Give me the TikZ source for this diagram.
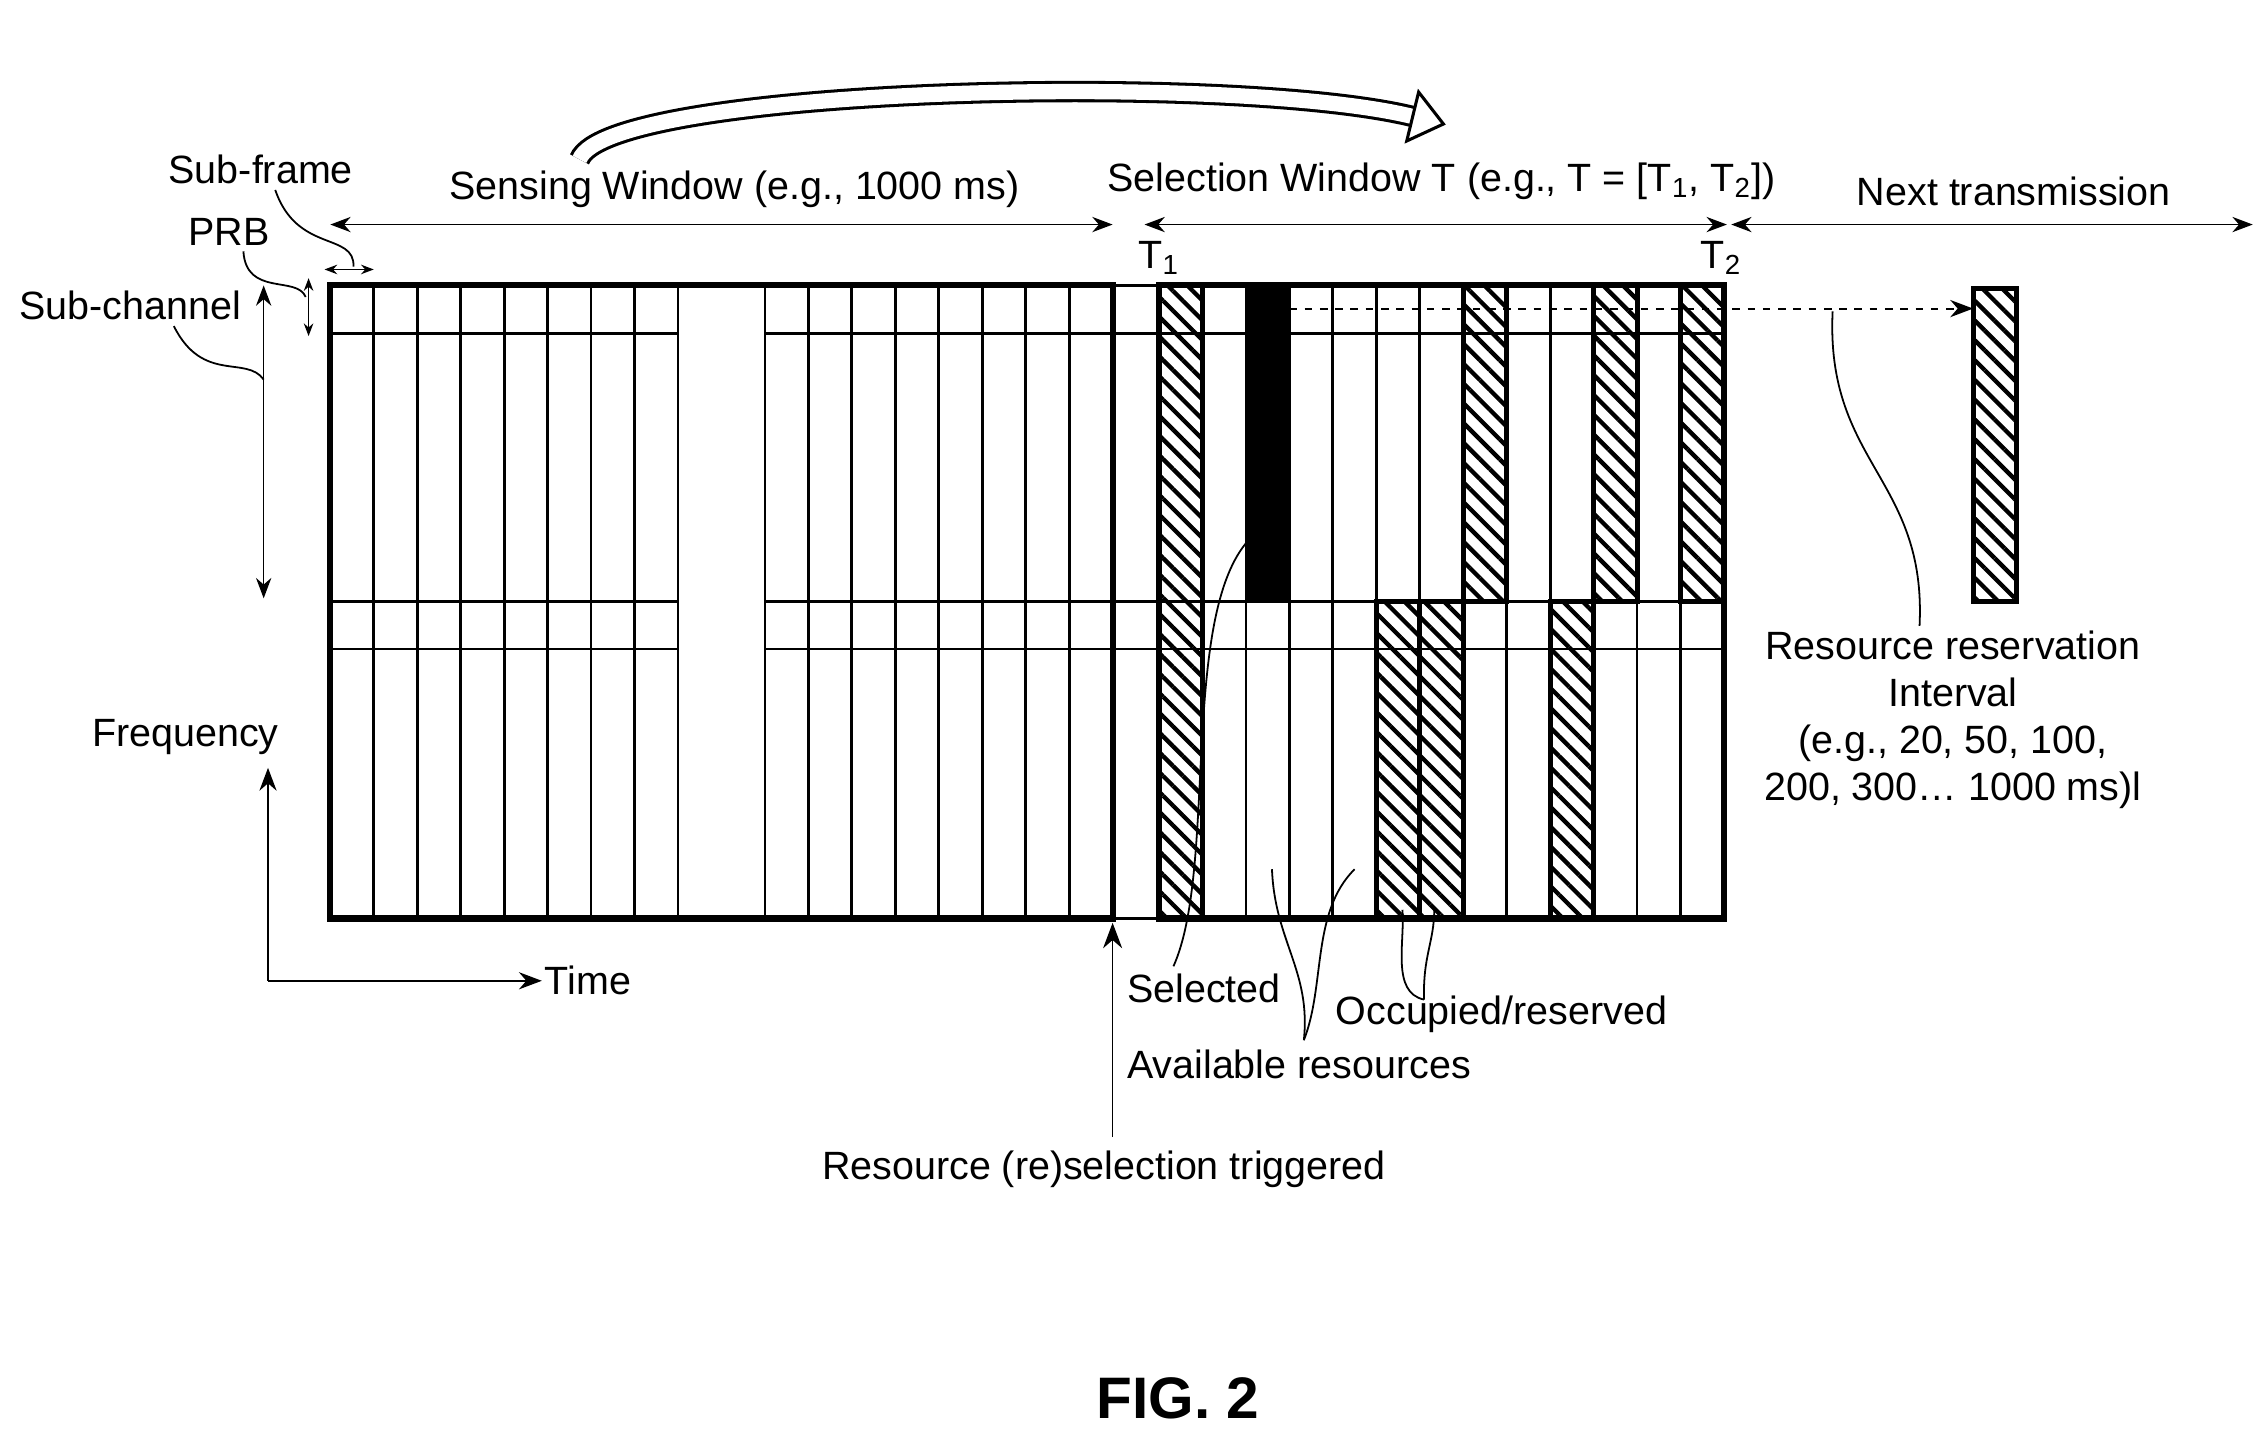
\documentclass[tikz,border=0pt]{standalone}
\usepackage{fontspec}
\setmainfont{Liberation Sans}
\usetikzlibrary{arrows.meta,patterns.meta}

\tikzset{
  thin grid/.style={line width=1.1pt},
  frame/.style={line width=2.4pt},
  hatch/.style={line width=2pt,pattern={Lines[angle=-45,distance=5.5pt,line width=1.7pt]}},
  span/.style={{Stealth[length=8pt]}-{Stealth[length=8pt]},line width=0.6pt},
  lead/.style={line width=0.7pt},
  lbl/.style={inner sep=1pt}
}

\begin{document}
\begin{tikzpicture}[x=0.02cm,y=-0.02cm,font=\fontsize{15.5}{18.5}\selectfont]
  \useasboundingbox (0,0) rectangle (1560,990);

  % hatched and selected cells
  \draw[hatch] (800,197) rectangle (830,634);
  \fill (860,197) rectangle (890,415);
  \foreach \x in {950,980,1070}
    \draw[hatch] (\x,415) rectangle (\x+30,634);
  \foreach \x in {1010,1100,1160}
    \draw[hatch] (\x,197) rectangle (\x+30,415);
  \draw[hatch] (1362,199) rectangle (1392,415);

  % sensing part
  \foreach \s in {228,528} {
    \foreach \i in {1,...,7}
      \draw[thin grid] (\s+30*\i,197) -- (\s+30*\i,634);
    \foreach \y in {230,415,448}
      \draw[thin grid] (\s,\y) -- (\s+240,\y);
  }
  \draw[thin grid] (468,197) -- (468,634);
  \draw[thin grid] (528,197) -- (528,634);
  \draw[frame] (228,197) rectangle (768,634);

  % gap column before T1
  \foreach \y in {197,230,415,448,634}
    \draw[thin grid] (768,\y) -- (800,\y);

  % selection window
  \foreach \i in {1,...,12}
    \draw[thin grid] (800+30*\i,197) -- (800+30*\i,634);
  \foreach \y in {230,415,448}
    \draw[thin grid] (800,\y) -- (1190,\y);
  \draw[frame] (800,197) rectangle (1190,634);

  \draw[dashed,line width=0.8pt,-{Stealth[length=9pt]}] (890,213) -- (1362,213);

  % window spans
  \draw[span] (228,155) -- (768,155);
  \draw[span] (790,155) -- (1192,155);
  \draw[span] (1195,155) -- (1555,155);
  \node[lbl] (sensing) at (507,131) {Sensing Window (e.g., 1000 ms)};
  \node[lbl] (selwin) at (995,125) {Selection Window T (e.g., T = [T\textsubscript{1}, T\textsubscript{2}])};
  \node[lbl] (nexttx) at (1390,132) {Next transmission};
  \node[lbl] (t1) at (800,178) {T\textsubscript{1}};
  \node[lbl] (t2) at (1188,178) {T\textsubscript{2}};

  % hollow arrow
  \draw[line width=1.2pt,double distance=6pt,-{Triangle[open,length=14pt,width=22pt]}]
    (400,110) .. controls (420,60) and (850,50) .. (998,86);

  % sub-frame, PRB, sub-channel
  \draw[span,{Stealth[length=5pt]}-{Stealth[length=5pt]}] (224,186) -- (258,186);
  \draw[span,{Stealth[length=5pt]}-{Stealth[length=5pt]}] (213,192) -- (213,232);
  \draw[span] (182,197) -- (182,413);
  \node[lbl] (subframe) at (180,117) {Sub-frame};
  \node[lbl] (prb) at (158,160) {PRB};
  \node[lbl] (subchan) at (90,211) {Sub-channel};
  \coordinate (sf) at (244,184);
  \coordinate (pr) at (211,205);
  \coordinate (sc) at (182,262);
  \draw[lead] (subframe.south) ++(10,2) .. controls (205,175) and (245,160) .. (sf);
  \draw[lead] (prb.south) ++(10,2) .. controls (170,205) and (205,190) .. (pr);
  \draw[lead] (subchan.south) ++(30,2) .. controls (140,265) and (170,245) .. (sc);

  % frequency / time axes
  \node[lbl] (freq) at (128,509) {Frequency};
  \node[lbl,anchor=west] (time) at (374,677) {Time};
  \coordinate (orig) at (185,677);
  \draw[line width=0.6pt,-{Stealth[length=9pt]}] (orig) -- (185,530);
  \draw[line width=0.6pt,-{Stealth[length=9pt]}] (orig) -- (time.west);

  % trigger
  \node[lbl] (trigger) at (762,807) {Resource (re)selection triggered};
  \draw[line width=0.6pt,-{Stealth[length=10pt]}] (768,785) -- (768,637);

  % legends
  \node[lbl,anchor=west] (selected) at (776,682) {Selected};
  \node[lbl,anchor=west] (avail) at (776,735) {Available resources};
  \node[lbl,anchor=west] (occ) at (920,700) {Occupied/reserved};
  \coordinate (selp) at (860,375);
  \coordinate (av1) at (878,600);
  \coordinate (av2) at (935,600);
  \coordinate (oc1) at (968,628);
  \coordinate (oc2) at (990,628);
  \draw[lead] (810,667) .. controls (840,600) and (815,430) .. (selp);
  \draw[lead] (900,718) .. controls (905,670) and (880,650) .. (av1);
  \draw[lead] (900,718) .. controls (915,680) and (905,630) .. (av2);
  \draw[lead] (983,690) .. controls (960,685) and (970,650) .. (oc1);
  \draw[lead] (983,690) .. controls (982,660) and (990,650) .. (oc2);

  % reservation interval
  \node[lbl,align=center] (resint) at (1348,497)
    {Resource reservation\\Interval\\(e.g., 20, 50, 100,\\200, 300\ldots{} 1000 ms)l};
  \coordinate (rip) at (1265,215);
  \draw[lead] (1325,432) .. controls (1330,330) and (1260,320) .. (rip);

  \node[font=\bfseries\fontsize{23}{26}\selectfont] (fig) at (813,965) {FIG. 2};
\end{tikzpicture}
\end{document}
